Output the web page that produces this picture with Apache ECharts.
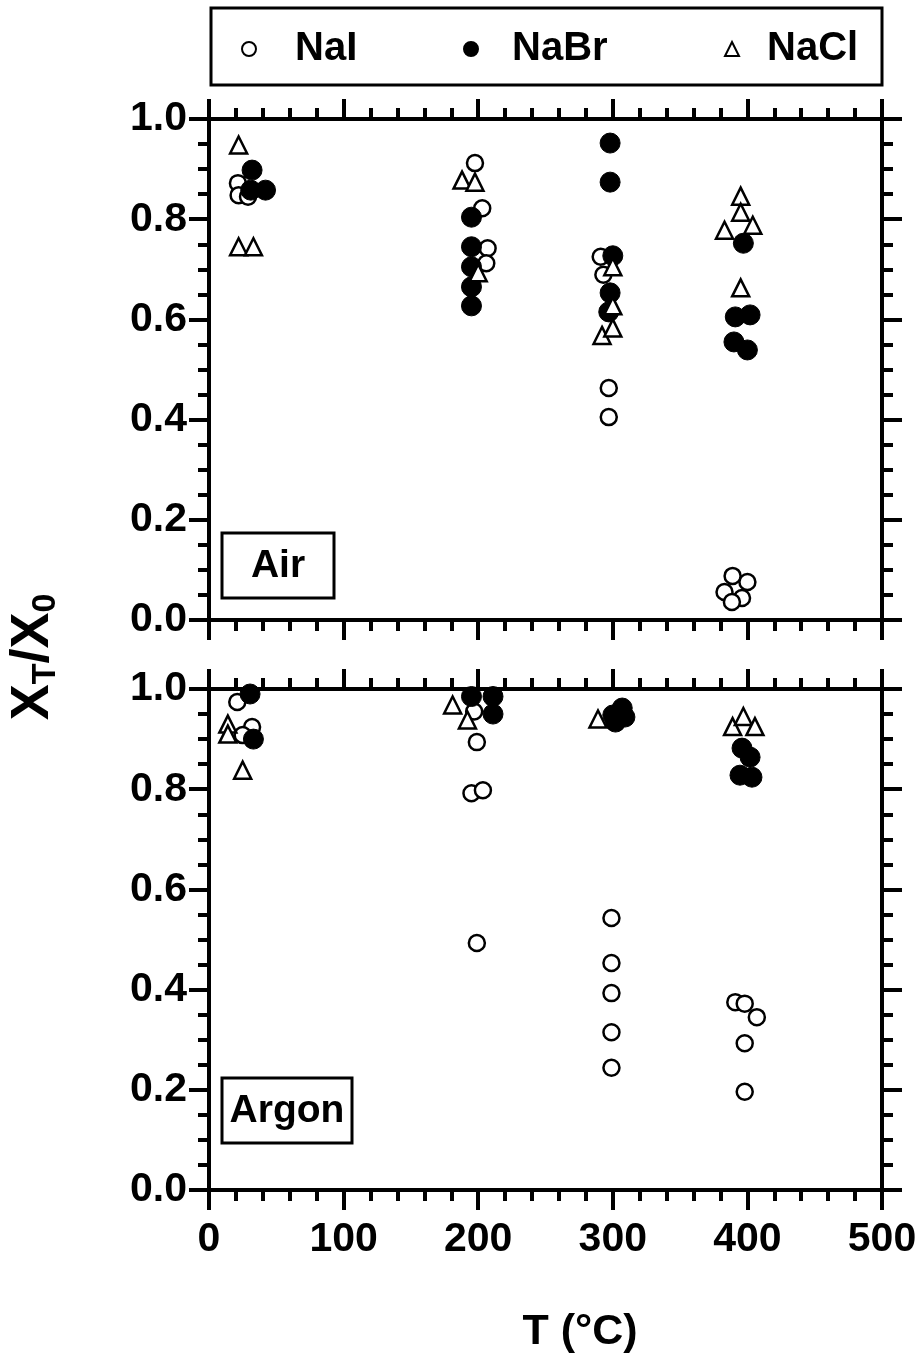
<!DOCTYPE html>
<html>
<head>
<meta charset="utf-8">
<script src="https://cdn.jsdelivr.net/npm/echarts@6/dist/echarts.min.js"></script>
<style>
html,body{margin:0;padding:0;background:#fff;}
#chart{width:923px;height:1361px;}
</style>
</head>
<body>
<div id="chart"></div>
<script>
// ---- data (T in °C, X_T/X_0) ----
const xTicks = [0, 100, 200, 300, 400, 500];
const yTicks = [0.0, 0.2, 0.4, 0.6, 0.8, 1.0];
const seriesNames = ['NaI', 'NaBr', 'NaCl'];
const panelLabels = ['Air', 'Argon'];

const airNaI = [[21.5,0.872],[22,0.848],[29,0.845],[197.6,0.912],[203,0.822],[207,0.742],[206,0.712],
  [291,0.725],[293,0.689],[297,0.463],[297,0.405],[389,0.088],[400,0.076],[383,0.056],[396,0.044],[388.5,0.036]];
const airNaBr = [[32,0.898],[31,0.858],[42,0.858],[195,0.804],[195,0.745],[195,0.705],[195,0.665],[195,0.627],
  [298,0.952],[298,0.874],[300,0.727],[298,0.653],[297,0.615],[397,0.752],[391,0.605],[402,0.609],[390,0.555],[400,0.539]];
const airNaCl = [[22,0.948],[22,0.745],[33,0.745],[188,0.878],[197.6,0.874],[200,0.693],
  [300,0.705],[300,0.627],[292,0.568],[300,0.583],[395,0.846],[395,0.814],[404,0.788],[383,0.778],[395,0.663]];

const arNaI = [[21,0.974],[32,0.924],[25,0.908],[197,0.955],[199,0.894],[195,0.792],[203.5,0.798],[199,0.493],
  [299,0.543],[299,0.453],[299,0.393],[299,0.315],[299,0.244],[391,0.375],[398,0.372],[407,0.345],[398,0.293],[398,0.196]];
const arNaBr = [[30.5,0.99],[33,0.9],[195,0.985],[211,0.985],[211,0.95],[300,0.948],[307,0.962],[309,0.944],[302,0.934],
  [396,0.882],[402,0.864],[394.5,0.828],[403.4,0.824]];
const arNaCl = [[14,0.93],[14,0.91],[25,0.838],[181,0.968],[192,0.938],[289,0.94],[389,0.925],[397,0.945],[405.6,0.925]];

const FONT = "'Liberation Sans','Arial',sans-serif";
const BLACK = '#000';

function xAxisDef(gridIndex, position, showLabels){
  return {
    type:'value', gridIndex, position, min:xTicks[0], max:xTicks[xTicks.length-1], interval:100,
    axisLine:{show:true, onZero:false, lineStyle:{color:BLACK, width:4}},
    axisTick:{show:true, inside:false, length:20, lineStyle:{color:BLACK, width:4}},
    minorTick:{show:true, splitNumber:5, length:11, lineStyle:{color:BLACK, width:4}},
    splitLine:{show:false},
    axisLabel:{show:showLabels, margin:29, color:BLACK, fontSize:41, fontWeight:'bold', fontFamily:FONT}
  };
}
function yAxisDef(gridIndex, position, showLabels){
  return {
    type:'value', gridIndex, position, min:yTicks[0], max:yTicks[yTicks.length-1], interval:0.2,
    axisLine:{show:true, onZero:false, lineStyle:{color:BLACK, width:4}},
    axisTick:{show:true, inside:false, length:20, lineStyle:{color:BLACK, width:4}},
    minorTick:{show:true, splitNumber:4, length:11, lineStyle:{color:BLACK, width:4}},
    splitLine:{show:false},
    axisLabel:{show:showLabels, margin:22, color:BLACK, fontSize:41, fontWeight:'bold', fontFamily:FONT,
      formatter:v=>v.toFixed(1)}
  };
}

const styles = {
  NaI:{symbol:'circle', symbolSize:16, itemStyle:{color:'#fff', borderColor:BLACK, borderWidth:2.5, opacity:1}},
  NaBr:{symbol:'circle', symbolSize:20, itemStyle:{color:BLACK, borderColor:BLACK, borderWidth:1, opacity:1}},
  NaCl:{symbol:'triangle', symbolSize:17, itemStyle:{color:'#fff', borderColor:BLACK, borderWidth:2.5, opacity:1}}
};
function sc(name, data, grid){
  return Object.assign({
    type:'scatter', name, data, xAxisIndex: grid*2, yAxisIndex: grid*2, clip:false
  }, JSON.parse(JSON.stringify(styles[name])));
}

function legendDef(name, left, pad){
  return {
    data:[name], left, top:24, itemWidth:14, itemHeight:14, selectedMode:false,
    textStyle:{color:BLACK, fontSize:40, fontWeight:'bold', fontFamily:FONT, padding:[0,0,0,pad]}
  };
}

function labelBox(text, x, y, w, h){
  return {
    type:'group', children:[
      {type:'rect', shape:{x, y, width:w, height:h}, style:{fill:'#fff', stroke:BLACK, lineWidth:3}},
      {type:'text', x:x+w/2, y:y+h/2+1, style:{text, fill:BLACK, font:"bold 39px " + FONT, textAlign:'center', textVerticalAlign:'middle'}}
    ]
  };
}

const option = {
  backgroundColor:'#fff',
  animation:false,
  grid:[
    {left:209, width:673, top:119, height:501},
    {left:209, width:673, top:689, height:501}
  ],
  xAxis:[
    xAxisDef(0,'bottom',false), xAxisDef(0,'top',false),
    xAxisDef(1,'bottom',true), xAxisDef(1,'top',false)
  ],
  yAxis:[
    yAxisDef(0,'left',true), yAxisDef(0,'right',false),
    yAxisDef(1,'left',true), yAxisDef(1,'right',false)
  ],
  legend:[ legendDef('NaI',236,34), legendDef('NaBr',458,29), legendDef('NaCl',719,23) ],
  graphic:[
    {type:'rect', shape:{x:211, y:8, width:671, height:77}, style:{fill:'none', stroke:BLACK, lineWidth:3}},
    labelBox(panelLabels[0], 222, 533, 112, 65),
    labelBox(panelLabels[1], 222, 1078, 130, 65),
    {type:'text', x:580, y:1332, style:{text:'T (°C)', fill:BLACK, font:"bold 43px " + FONT, textAlign:'center', textVerticalAlign:'middle'}},
    {type:'text', x:33, y:657, rotation:Math.PI/2,
      style:{text:'{a|X}{b|T}{a|/X}{b|0}', textAlign:'center', textVerticalAlign:'middle', fill:BLACK,
        rich:{a:{fontSize:54, fontWeight:'bold', fontFamily:FONT, fill:BLACK},
              b:{fontSize:34, fontWeight:'bold', fontFamily:FONT, fill:BLACK, padding:[26,0,0,0]}}}}
  ],
  series:[
    sc('NaI', airNaI, 0), sc('NaBr', airNaBr, 0), sc('NaCl', airNaCl, 0),
    sc('NaI', arNaI, 1), sc('NaBr', arNaBr, 1), sc('NaCl', arNaCl, 1)
  ]
};

const chart = echarts.init(document.getElementById('chart'), null, {renderer:'canvas'});
chart.setOption(option);
</script>
</body>
</html>
